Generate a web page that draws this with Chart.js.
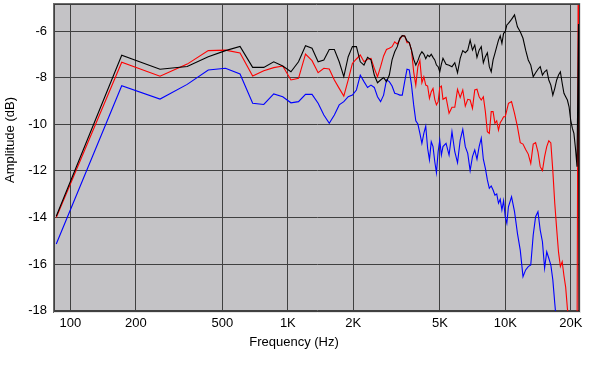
<!DOCTYPE html>
<html>
<head>
<meta charset="utf-8">
<script src="https://cdn.jsdelivr.net/npm/chart.js@4/dist/chart.umd.min.js"></script>
<style>
    html, body { margin: 0; padding: 0; background: #ffffff; }
</style>
</head>
<body>
<canvas id="responseChart" width="591" height="391"></canvas>
<script>
// FFT bins (44.1 kHz, 512 points); every bin at the low end, thinner above 5K
const binHz = 44100 / 512;
const bins = [];
for (let k = 1; k <= 60; k++) bins.push(k);
for (let k = 62; k <= 120; k += 2) bins.push(k);
for (let k = 124; k <= 252; k += 4) bins.push(k);
bins.push(255);

const blackDb = [
    -13.95, -7.04, -7.64, -7.52, -7.10, -6.84, -6.66, -7.56, -7.56, -7.32,
    -7.50, -7.75, -7.32, -6.63, -6.74, -7.32, -7.24, -6.79, -6.79, -7.32,
    -7.96, -7.10, -6.67, -6.67, -7.32, -7.46, -7.13, -7.24, -7.89, -8.22,
    -8.10, -8.00, -8.17, -7.89, -7.24, -6.89, -6.67, -6.31, -6.20, -6.21,
    -6.42, -6.50, -6.82, -7.21, -7.46, -7.27, -7.03, -6.89, -6.99, -7.19,
    -7.03, -7.10, -7.00, -7.13, -7.24, -7.46, -7.53, -7.75, -7.42, -7.17,
    // 62..120
    -7.43, -7.47, -7.53, -7.36, -7.79, -7.17, -6.84, -6.93, -6.82, -6.39,
    -6.82, -6.60, -7.13, -6.82, -6.67, -7.36, -7.10, -6.93, -7.53, -7.75,
    -7.24, -6.96, -6.67, -6.39, -6.21, -6.53, -6.10, -6.03, -5.74, -5.67,
    // 124..252
    -5.50, -5.31, -5.82, -6.03, -6.31, -6.82, -7.24, -7.46, -7.96, -7.79,
    -7.64, -7.53, -7.89, -7.75, -7.67, -8.10, -8.32, -8.75, -8.46, -8.10,
    -7.89, -7.75, -8.24, -8.67, -8.82, -8.96, -9.25, -9.82, -10.17, -10.39,
    -11.03, -11.82, -5.70,
    -30
];

const redDb = [
    -14.00, -7.34, -7.94, -7.42, -6.84, -6.82, -6.94, -7.93, -7.70, -7.57,
    -7.50, -8.10, -8.03, -6.99, -7.27, -7.79, -7.60, -7.63, -8.10, -8.46,
    -8.79, -8.10, -7.39, -7.20, -7.03, -7.32, -7.21, -7.17, -7.60, -7.96,
    -7.53, -7.07, -6.79, -6.74, -6.67, -6.46, -6.56, -6.36, -6.20, -6.21,
    -6.50, -6.50, -6.82, -7.75, -8.32, -7.53, -7.27, -8.22, -7.96, -8.32,
    -8.36, -8.89, -8.60, -8.46, -8.93, -9.17, -9.03, -8.42, -8.36, -8.93,
    // 62..120
    -8.85, -9.53, -9.27, -9.27, -8.50, -8.85, -8.53, -9.22, -8.93, -8.96,
    -9.32, -8.53, -8.50, -8.82, -8.96, -8.82, -9.46, -10.32, -10.39, -9.46,
    -9.46, -9.96, -9.85, -10.25, -9.93, -9.82, -9.68, -9.68, -9.39, -9.10,
    // 124..252
    -9.03, -9.53, -10.10, -10.79, -10.85, -11.08, -11.28, -11.68, -10.85, -10.79,
    -11.18, -11.82, -11.99, -11.39, -10.96, -10.71, -10.80, -12.00, -13.40, -14.50,
    -15.50, -16.10, -15.90, -16.50, -17.00, -17.90, -18.60, -19.50, -20, -20,
    -20, -20, 1,
    -30
];

const blueDb = [
    -15.14, -8.35, -8.92, -8.29, -7.67, -7.60, -7.84, -9.10, -9.15, -8.70,
    -8.82, -9.08, -9.03, -8.72, -8.72, -9.10, -9.60, -9.96, -9.60, -9.17,
    -9.03, -8.82, -8.75, -8.53, -7.89, -8.17, -8.42, -8.32, -8.42, -8.82,
    -9.03, -8.75, -8.10, -8.17, -8.36, -8.67, -8.70, -8.75, -8.75, -8.17,
    -7.64, -7.67, -8.32, -9.17, -9.85, -9.99, -10.39, -10.82, -10.39, -10.08,
    -11.03, -11.53, -10.75, -10.96, -11.60, -12.08, -11.18, -10.68, -11.32, -10.96,
    // 62..120
    -10.82, -11.32, -10.32, -11.18, -11.65, -10.68, -10.22, -10.96, -11.25, -11.99,
    -11.39, -11.10, -11.50, -10.96, -10.60, -11.50, -11.89, -12.39, -12.75, -12.65,
    -12.82, -13.04, -12.99, -13.39, -13.22, -13.68, -13.28, -13.97, -14.25, -13.54,
    // 124..252
    -13.11, -13.75, -14.68, -15.40, -16.54, -16.25, -16.11, -16.04, -14.75, -13.97,
    -13.75, -14.54, -15.04, -16.18, -15.47, -15.75, -16.04, -16.68, -17.68, -18.60,
    -19.00, -19.50, -20, -20, -20, -20, -20, -20, -20, -20,
    -20, -20, -20,
    -30
];

const freqTicks = [100, 200, 500, 1000, 2000, 5000, 10000, 20000];
const dbTicks = [-18, -16, -14, -12, -10, -8, -6];

const toPoints = (values) => values.map((v, i) => ({ x: bins[i] * binHz, y: v }));

// grey plot background, sunken frame and the two axis titles
const plotFrame = {
    id: 'plotFrame',
    beforeDraw(chart) {
        const { ctx, chartArea: a } = chart;
        ctx.save();
        ctx.fillStyle = '#c4c3c6';
        ctx.fillRect(a.left, a.top, a.right - a.left, a.bottom - a.top);
        ctx.restore();
    },
    afterDraw(chart) {
        const { ctx, chartArea: a } = chart;
        const line = (x1, y1, x2, y2, color) => {
            ctx.strokeStyle = color;
            ctx.beginPath();
            ctx.moveTo(x1, y1);
            ctx.lineTo(x2, y2);
            ctx.stroke();
        };
        ctx.save();
        ctx.lineWidth = 1;
        line(a.left - 2, a.top - 0.5, a.right + 1, a.top - 0.5, '#6a6a6a');
        line(a.left - 2, a.top + 0.5, a.right, a.top + 0.5, '#404040');
        line(a.left - 1.5, a.top - 1, a.left - 1.5, a.bottom + 1, '#6a6a6a');
        line(a.left - 0.5, a.top, a.left - 0.5, a.bottom, '#404040');
        line(a.left - 1, a.bottom + 0.5, a.right + 1, a.bottom + 0.5, '#e4e4e4');
        line(a.left - 1, a.bottom - 0.5, a.right, a.bottom - 0.5, '#404040');
        line(a.right + 0.5, a.top - 1, a.right + 0.5, a.bottom + 1, '#e4e4e4');
        line(a.right - 0.5, a.top, a.right - 0.5, a.bottom, '#404040');

        ctx.fillStyle = '#000000';
        ctx.font = '13px "Liberation Sans", Arial, sans-serif';
        ctx.textAlign = 'center';
        ctx.textBaseline = 'middle';
        ctx.fillText('Frequency (Hz)', 294, 342);
        ctx.translate(10, 140);
        ctx.rotate(-Math.PI / 2);
        ctx.fillText('Amplitude (dB)', 0, 0);
        ctx.restore();
    }
};

Chart.defaults.font.family = '"Liberation Sans", Arial, sans-serif';
Chart.defaults.font.size = 13;
Chart.defaults.color = '#000000';

new Chart(document.getElementById('responseChart'), {
    type: 'line',
    data: {
        datasets: [
            { label: 'Black', data: toPoints(blackDb), borderColor: '#000000' },
            { label: 'Red', data: toPoints(redDb), borderColor: '#ff0000' },
            { label: 'Blue', data: toPoints(blueDb), borderColor: '#0000ff' }
        ]
    },
    options: {
        responsive: false,
        animation: false,
        events: [],
        elements: {
            line: { borderWidth: 1.1, tension: 0, fill: false },
            point: { radius: 0 }
        },
        layout: { padding: { left: 0, right: 11, top: 4, bottom: 49 } },
        plugins: {
            legend: { display: false },
            tooltip: { enabled: false }
        },
        scales: {
            x: {
                type: 'logarithmic',
                min: 85,
                max: 22050,
                afterBuildTicks: (s) => { s.ticks = freqTicks.map(v => ({ value: v })); },
                afterFit: (s) => { s.height = 30; s.paddingLeft = 0; s.paddingRight = 0; },
                grid: { color: '#404040', lineWidth: 1, drawTicks: false },
                border: { display: false },
                ticks: {
                    autoSkip: false,
                    maxRotation: 0,
                    padding: 4,
                    callback: (v) => v >= 1000 ? (v / 1000) + 'K' : String(v)
                }
            },
            y: {
                min: -18.056,
                max: -4.84,
                afterBuildTicks: (s) => { s.ticks = dbTicks.map(v => ({ value: v })); },
                afterFit: (s) => { s.width = 55; s.paddingTop = 0; s.paddingBottom = 0; },
                grid: { color: '#404040', lineWidth: 1, drawTicks: false },
                border: { display: false },
                ticks: { padding: 8 }
            }
        }
    },
    plugins: [plotFrame]
});
</script>
</body>
</html>
